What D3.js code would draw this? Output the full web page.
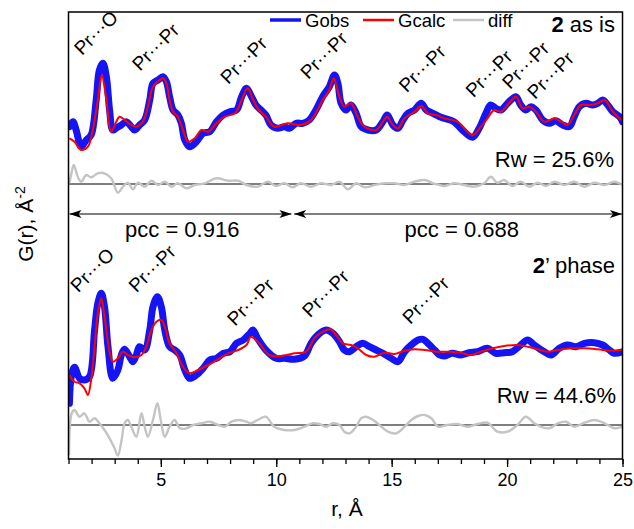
<!DOCTYPE html>
<html><head><meta charset="utf-8">
<script src="https://cdn.jsdelivr.net/npm/d3@7"></script>
<style>
body{margin:0;background:#fff}
svg{display:block}
text{font-family:"Liberation Sans",Arial,Helvetica,sans-serif;fill:#000}
</style>
</head><body>
<svg id="chart" width="634" height="529"></svg>
<script>
// ---------------- data (r in Å, G in stacked plot units) ----------------
const topObs = [[1.04,33.23],[1.19,33.73],[1.33,32.9],[1.55,31.23],[1.77,31.9],[1.98,32.4],[2.2,35.9],[2.34,38.9],[2.49,39.57],[2.64,38.23],[2.78,34.9],[2.92,32.9],[3.07,33.1],[3.29,33.4],[3.5,33.73],[3.72,33.23],[3.86,32.9],[4.08,33.4],[4.3,33.9],[4.52,35.9],[4.66,37.57],[4.88,37.9],[5.09,38.23],[5.24,37.73],[5.38,36.23],[5.53,34.9],[5.74,34.4],[5.89,33.57],[6.04,31.9],[6.25,31.23],[6.54,31.73],[6.83,32.57],[7.12,32.73],[7.41,33.73],[7.7,34.4],[7.99,34.73],[8.28,34.9],[8.5,36.23],[8.71,37.07],[8.93,36.23],[9.12,35.4],[9.34,34.9],[9.55,34.4],[9.77,33.4],[10.06,33.07],[10.35,33.23],[10.56,33.07],[10.86,33.57],[11.15,33.57],[11.43,33.9],[11.72,34.9],[12.01,36.23],[12.3,37.23],[12.52,38.4],[12.67,37.57],[12.81,35.57],[13.03,34.9],[13.24,35.4],[13.46,34.57],[13.68,33.23],[13.97,32.9],[14.33,32.9],[14.62,33.73],[14.81,34.4],[15.05,33.4],[15.27,33.07],[15.49,33.9],[15.71,34.57],[15.99,34.9],[16.28,35.57],[16.5,34.9],[16.79,34.57],[17.08,34.23],[17.27,34.07],[17.7,33.73],[18.06,32.9],[18.5,32.17],[18.79,33.07],[19.08,34.57],[19.29,35.4],[19.51,35.07],[19.73,34.9],[20.02,35.57],[20.38,36.23],[20.59,35.4],[20.81,34.9],[21.03,35.23],[21.25,34.9],[21.54,33.9],[21.83,33.57],[22.11,33.83],[22.41,33.4],[22.7,33.23],[22.91,34.23],[23.13,35.23],[23.42,35.57],[23.71,35.4],[23.93,35.57],[24.14,35.9],[24.36,35.4],[24.58,34.73],[24.87,34.23],[25.0,33.73]];

const topCalc = [[1.04,32.07],[1.26,31.73],[1.55,30.9],[1.84,31.23],[2.05,32.9],[2.27,35.9],[2.44,38.4],[2.64,35.9],[2.85,32.73],[3.07,33.73],[3.21,34.23],[3.43,33.9],[3.72,33.4],[3.94,33.23],[4.22,33.73],[4.44,35.23],[4.66,37.23],[4.95,37.9],[5.09,38.07],[5.24,37.57],[5.38,35.9],[5.53,34.73],[5.74,34.23],[5.96,32.9],[6.18,31.73],[6.47,32.07],[6.76,32.9],[7.05,32.73],[7.41,33.57],[7.77,34.23],[8.21,34.57],[8.5,35.9],[8.76,37.07],[9.0,35.9],[9.19,35.07],[9.55,34.23],[9.91,33.23],[10.5,33.57],[11.07,33.4],[11.51,33.9],[12.01,35.9],[12.3,36.9],[12.49,38.07],[12.74,36.23],[12.95,35.23],[13.24,35.57],[13.53,34.23],[13.82,33.23],[14.33,32.9],[14.62,33.73],[14.81,34.23],[15.05,33.4],[15.27,33.07],[15.56,34.07],[15.99,34.73],[16.28,35.3],[16.57,34.57],[16.93,34.4],[17.27,34.07],[17.85,33.73],[18.5,32.4],[18.86,33.23],[19.15,34.07],[19.44,34.9],[19.73,34.73],[20.02,35.4],[20.38,36.23],[20.67,35.07],[20.96,35.23],[21.25,34.73],[21.61,33.73],[22.05,34.07],[22.33,33.73],[22.62,33.4],[22.91,34.4],[23.2,35.4],[23.63,35.4],[23.93,35.57],[24.22,35.9],[24.58,34.73],[24.87,34.07],[25.0,33.9]];

const topDiff = [[1.04,27.57],[1.13,28.6],[1.23,29.4],[1.4,28.23],[1.55,27.73],[1.77,28.4],[1.98,28.17],[2.27,28.57],[2.56,28.57],[2.85,28.07],[3.14,26.63],[3.36,27.23],[3.57,27.63],[3.79,26.97],[4.01,27.63],[4.3,27.23],[4.59,27.83],[4.88,27.4],[5.17,27.73],[5.46,27.23],[5.74,27.57],[6.11,27.07],[6.47,27.4],[6.9,27.57],[7.41,28.07],[7.92,27.83],[8.35,27.83],[8.71,27.4],[9.19,27.23],[9.63,27.73],[9.99,27.3],[10.35,27.57],[10.71,27.17],[11.07,27.57],[11.51,27.23],[11.94,27.57],[12.38,27.4],[12.74,27.73],[13.1,26.97],[13.46,27.57],[13.82,27.17],[14.26,27.4],[14.69,27.57],[15.12,27.57],[15.56,27.4],[15.99,27.73],[16.43,27.9],[16.79,27.57],[17.08,27.4],[17.27,27.3],[17.7,27.57],[18.14,27.4],[18.57,27.23],[19.01,27.57],[19.29,28.23],[19.58,27.63],[19.87,27.9],[20.23,27.3],[20.59,27.73],[20.96,27.23],[21.32,27.63],[21.68,27.3],[22.05,27.73],[22.48,27.4],[22.91,27.73],[23.35,27.23],[23.78,27.63],[24.22,27.4],[24.65,27.73],[25.0,27.4]];

const botObs = [[1.04,5.57],[1.12,8.23],[1.26,9.17],[1.48,8.07],[1.69,7.9],[1.91,8.23],[2.13,12.9],[2.27,15.57],[2.42,16.57],[2.56,15.23],[2.71,11.23],[2.92,8.07],[3.14,8.9],[3.29,10.4],[3.43,10.97],[3.65,10.23],[3.79,9.73],[3.94,10.4],[4.08,11.23],[4.3,10.9],[4.52,12.9],[4.66,15.23],[4.85,16.23],[5.02,15.23],[5.17,12.9],[5.38,11.23],[5.6,10.9],[5.82,10.4],[6.04,8.9],[6.25,8.07],[6.54,8.4],[6.83,9.07],[7.12,9.9],[7.41,10.07],[7.7,10.57],[7.99,10.73],[8.28,11.57],[8.57,11.9],[8.86,12.57],[8.99,12.9],[9.19,12.07],[9.55,10.9],[9.99,10.07],[10.35,10.07],[10.78,9.97],[11.22,10.3],[11.51,11.57],[11.8,12.4],[12.16,12.9],[12.45,12.57],[12.74,11.73],[12.95,10.9],[13.17,10.73],[13.46,11.23],[13.75,11.57],[14.04,11.23],[14.33,10.9],[14.62,10.57],[14.98,10.07],[15.27,9.73],[15.56,10.73],[15.85,11.4],[16.14,11.9],[16.36,11.97],[16.57,11.57],[16.86,10.9],[17.08,10.4],[17.27,10.3],[17.63,10.57],[17.99,10.4],[18.35,10.63],[18.71,10.73],[19.15,11.07],[19.51,10.57],[19.87,10.63],[20.23,10.73],[20.59,11.4],[20.89,11.9],[21.18,11.4],[21.61,10.73],[21.9,10.4],[22.26,11.07],[22.62,11.4],[22.98,11.23],[23.35,11.57],[23.78,11.63],[24.14,11.4],[24.43,10.9],[24.65,10.57],[25.0,10.73]];

const botCalc = [[1.04,8.4],[1.26,7.73],[1.48,7.57],[1.69,7.07],[1.84,6.4],[1.98,7.9],[2.13,11.23],[2.27,14.57],[2.42,16.07],[2.56,14.23],[2.78,10.73],[2.92,9.73],[3.14,10.07],[3.36,10.73],[3.57,10.4],[3.86,10.17],[4.16,10.4],[4.37,11.23],[4.59,12.9],[4.81,13.73],[5.02,13.9],[5.17,13.23],[5.38,11.57],[5.68,10.57],[5.96,9.23],[6.25,8.57],[6.61,8.9],[7.05,9.4],[7.48,9.97],[7.92,10.57],[8.35,10.9],[8.71,11.4],[8.9,12.23],[9.26,11.57],[9.7,10.4],[10.2,10.3],[10.78,10.57],[11.29,10.73],[11.65,12.07],[12.01,12.73],[12.34,12.97],[12.59,12.4],[12.88,11.57],[13.24,11.4],[13.53,11.07],[13.9,10.4],[14.26,10.23],[14.69,10.63],[15.12,10.5],[15.56,10.83],[15.99,10.97],[16.43,10.9],[16.98,10.73],[17.56,10.73],[17.99,10.63],[18.42,10.4],[18.86,10.73],[19.37,11.07],[19.87,11.3],[20.45,11.4],[20.89,11.23],[21.32,10.97],[21.75,10.73],[22.19,10.9],[22.77,11.07],[23.35,11.07],[23.93,10.97],[24.5,10.83],[25.0,10.9]];

const botDiff = [[1.02,0.4],[1.14,4.57],[1.26,4.9],[1.48,4.23],[1.69,4.57],[1.91,3.73],[2.13,4.07],[2.34,3.57],[2.56,2.9],[2.78,2.07],[2.99,1.1],[3.14,0.34],[3.3,1.9],[3.43,3.57],[3.57,3.9],[3.72,3.23],[3.94,2.23],[4.16,4.57],[4.3,3.23],[4.44,2.23],[4.66,3.9],[4.85,5.57],[5.02,3.57],[5.17,2.23],[5.38,3.23],[5.6,3.9],[5.82,3.07],[6.11,3.07],[6.4,3.4],[6.76,3.57],[7.12,3.73],[7.48,3.4],[7.77,3.23],[8.06,3.73],[8.35,3.9],[8.71,3.73],[8.9,3.57],[9.19,3.9],[9.55,4.23],[9.91,3.23],[10.35,2.9],[10.78,2.9],[11.22,3.23],[11.58,3.57],[11.87,3.5],[12.16,3.23],[12.45,3.57],[12.74,3.4],[12.95,2.73],[13.17,2.57],[13.46,3.23],[13.68,4.07],[13.9,4.23],[14.19,3.9],[14.47,3.4],[14.84,2.73],[15.2,2.57],[15.56,3.23],[15.85,3.9],[16.14,4.3],[16.43,4.4],[16.72,4.07],[17.01,3.23],[17.41,3.4],[17.85,3.5],[18.28,3.23],[18.71,3.5],[19.15,3.63],[19.58,2.73],[20.02,2.73],[20.45,3.4],[20.81,4.23],[21.18,3.57],[21.46,3.23],[21.83,3.07],[22.19,3.57],[22.55,3.73],[22.91,3.23],[23.35,3.63],[23.78,3.9],[24.22,3.57],[24.65,3.07],[25.0,3.23]];

const diffBaselines = [27.5, 3.4];

const topPeakLabels = ["Pr\u00B7\u00B7\u00B7O","Pr\u00B7\u00B7\u00B7Pr","Pr\u00B7\u00B7\u00B7Pr","Pr\u00B7\u00B7\u00B7Pr","Pr\u00B7\u00B7\u00B7Pr","Pr\u00B7\u00B7\u00B7Pr","Pr\u00B7\u00B7\u00B7Pr","Pr\u00B7\u00B7\u00B7Pr"];
const topPeakR = [1.58, 4.10, 7.92, 11.39, 15.65, 18.54, 20.13, 21.21];
const topPeakG = [40.3, 38.73, 37.4, 37.9, 36.57, 36.07, 36.9, 35.9];

const botPeakLabels = ["Pr\u00B7\u00B7\u00B7O","Pr\u00B7\u00B7\u00B7Pr","Pr\u00B7\u00B7\u00B7Pr","Pr\u00B7\u00B7\u00B7Pr","Pr\u00B7\u00B7\u00B7Pr"];
const botPeakR = [1.42, 3.95, 8.21, 11.46, 15.80];
const botPeakG = [16.57, 16.57, 13.23, 14.07, 13.4];

const pccLabels = ["pcc = 0.916", "pcc = 0.688"];
const pccFrom = [1.0, 10.73];
const pccTo = [10.68, 25.0];
const pccLevel = 24.5;

const rwLabels = ["Rw = 25.6%", "Rw = 44.6%"];
const legendNames = ["Gobs", "Gcalc", "diff"];
const xTickLabels = [5, 10, 15, 20, 25];
const xMinorTicks = d3.range(1, 26);

// ---------------- drawing ----------------
const svg = d3.select("#chart");
const box = {left: 68.5, right: 622.5, top: 12, bottom: 459};
const x = d3.scaleLinear().domain([1, 25]).range([box.left, box.right]);
const y = d3.scaleLinear().domain([0, 44.7]).range([box.bottom, box.top]);

const colObs = "#1414f5", colCalc = "#ff0000", colDiff = "#c4c4c4";

const defs = svg.append("defs");
defs.append("clipPath").attr("id", "clip").append("rect")
  .attr("x", box.left).attr("y", box.top)
  .attr("width", box.right - box.left).attr("height", box.bottom - box.top);
defs.append("marker").attr("id", "arrow")
  .attr("viewBox", "0 0 12 8").attr("refX", 12).attr("refY", 4)
  .attr("markerWidth", 12).attr("markerHeight", 8)
  .attr("markerUnits", "userSpaceOnUse")
  .attr("orient", "auto-start-reverse")
  .append("path").attr("d", "M0,0L12,4L0,8L3,4Z").attr("fill", "#000");

const line = d3.line().x(d => x(d[0])).y(d => y(d[1]))
  .curve(d3.curveCatmullRom.alpha(0.5));

const plot = svg.append("g").attr("clip-path", "url(#clip)");

// diff baselines
plot.selectAll("line.base").data(diffBaselines).join("line")
  .attr("x1", box.left).attr("x2", box.right)
  .attr("y1", d => y(d)).attr("y2", d => y(d))
  .attr("stroke", "#000").attr("stroke-width", 1.2);

// diff curves
[topDiff, botDiff].forEach(s => plot.append("path").datum(s).attr("d", line)
  .attr("fill", "none").attr("stroke", colDiff).attr("stroke-width", 2.4));

// observed curves
[topObs, botObs].forEach(s => plot.append("path").datum(s).attr("d", line)
  .attr("fill", "none").attr("stroke", colObs).attr("stroke-width", 7)
  .attr("stroke-linejoin", "round").attr("stroke-linecap", "round"));

// calculated curves
[topCalc, botCalc].forEach(s => plot.append("path").datum(s).attr("d", line)
  .attr("fill", "none").attr("stroke", colCalc).attr("stroke-width", 2));

// pcc arrows
pccLabels.forEach((t, i) => {
  svg.append("line")
    .attr("x1", x(pccFrom[i]) + 1).attr("x2", x(pccTo[i]) - 0.5)
    .attr("y1", y(pccLevel)).attr("y2", y(pccLevel))
    .attr("stroke", "#000").attr("stroke-width", 1.2)
    .attr("marker-start", "url(#arrow)").attr("marker-end", "url(#arrow)");
  svg.append("text")
    .attr("x", (x(pccFrom[i]) + x(pccTo[i])) / 2 + (i === 0 ? 2 : 4))
    .attr("y", 237).attr("text-anchor", "middle")
    .attr("font-size", 22).text(t);
});

// peak labels
function peakLabels(labels, rs, gs) {
  labels.forEach((t, i) => {
    const px = x(rs[i]), py = y(gs[i]);
    svg.append("text").attr("transform", `translate(${px},${py}) rotate(-45)`)
      .attr("font-size", 19).text(t);
  });
}
peakLabels(topPeakLabels, topPeakR, topPeakG);
peakLabels(botPeakLabels, botPeakR, botPeakG);

// panel titles
const t1 = svg.append("text").attr("x", 615).attr("y", 32).attr("text-anchor", "end").attr("font-size", 22);
t1.append("tspan").attr("font-weight", "bold").text("2");
t1.append("tspan").text(" as is");
const t2 = svg.append("text").attr("x", 615).attr("y", 273).attr("text-anchor", "end").attr("font-size", 22);
t2.append("tspan").attr("font-weight", "bold").text("2");
t2.append("tspan").text("\u2019 phase");

// Rw
svg.append("text").attr("x", 614).attr("y", 167).attr("text-anchor", "end").attr("font-size", 22).text(rwLabels[0]);
svg.append("text").attr("x", 616).attr("y", 403).attr("text-anchor", "end").attr("font-size", 22).text(rwLabels[1]);

// legend
const legCols = [colObs, colCalc, colDiff];
const legX = [270, 363, 453];
const legW = [3.5, 2.5, 2.5];
legendNames.forEach((n, i) => {
  svg.append("line").attr("x1", legX[i]).attr("x2", legX[i] + 31)
    .attr("y1", 20).attr("y2", 20).attr("stroke", legCols[i]).attr("stroke-width", legW[i]);
  svg.append("text").attr("x", legX[i] + 35).attr("y", 27).attr("font-size", 18.5).text(n);
});

// frame
svg.append("rect").attr("x", box.left).attr("y", box.top)
  .attr("width", box.right - box.left).attr("height", box.bottom - box.top)
  .attr("fill", "none").attr("stroke", "#000").attr("stroke-width", 1.5);

// x axis
const gMinor = svg.append("g").attr("transform", `translate(0,${box.bottom})`)
  .call(d3.axisBottom(x).tickValues(xMinorTicks).tickSize(5).tickFormat(""));
gMinor.select(".domain").remove();
gMinor.selectAll("line").attr("stroke-width", 1.3);
const gMajor = svg.append("g").attr("transform", `translate(0,${box.bottom})`)
  .call(d3.axisBottom(x).tickValues(xTickLabels).tickSize(8).tickPadding(6));
gMajor.select(".domain").remove();
gMajor.selectAll("line").attr("stroke-width", 1.3);
gMajor.selectAll("text").attr("font-size", 18).attr("font-family", null);

svg.append("text").attr("x", 347).attr("y", 516).attr("text-anchor", "middle")
  .attr("font-size", 21).text("r, \u00C5");

// y label
const yl = svg.append("text").attr("transform", "translate(33,224) rotate(-90)")
  .attr("text-anchor", "middle").attr("font-size", 21);
yl.append("tspan").text("G(r), \u00C5");
yl.append("tspan").attr("font-size", 14).attr("dy", -8).text("-2");
</script>
</body></html>
